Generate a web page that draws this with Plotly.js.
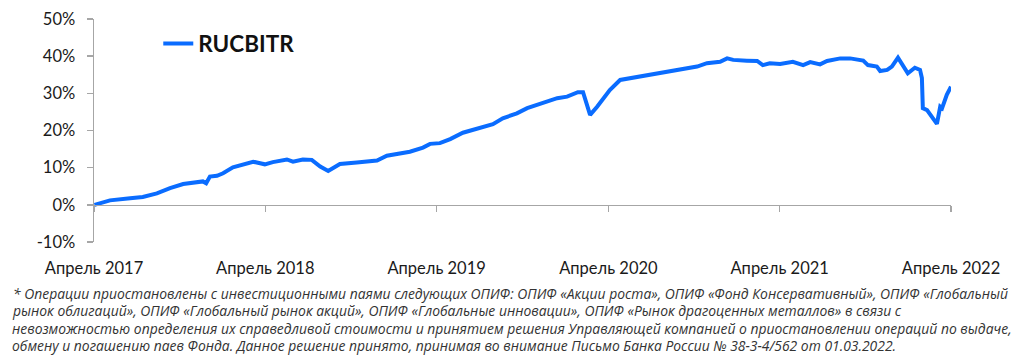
<!DOCTYPE html>
<html><head><meta charset="utf-8">
<script src="https://cdn.plot.ly/plotly-3.0.1.min.js"></script>
<style>html,body{margin:0;padding:0;background:#fff}#chart{width:1024px;height:357px}</style>
</head><body><div id="chart"></div>
<script>
const seriesName = 'RUCBITR';
const dates = ['2017-04-02','2017-05-05','2017-06-17','2017-07-14','2017-08-13','2017-09-10','2017-10-08','2017-11-06','2017-11-19','2017-11-26','2017-12-04','2017-12-19','2018-01-01','2018-01-22','2018-02-21','2018-03-06','2018-03-21','2018-03-31','2018-04-17','2018-05-17','2018-05-30','2018-06-20','2018-07-09','2018-07-27','2018-08-13','2018-09-07','2018-10-13','2018-11-25','2018-12-16','2019-01-13','2019-02-03','2019-03-03','2019-03-18','2019-04-08','2019-04-30','2019-05-27','2019-07-02','2019-07-30','2019-08-20','2019-09-19','2019-10-11','2019-11-14','2019-12-14','2020-01-04','2020-01-27','2020-02-07','2020-02-15','2020-02-22','2020-03-08','2020-03-21','2020-04-04','2020-04-26','2020-05-23','2020-06-29','2020-08-04','2020-09-07','2020-10-07','2020-10-28','2020-11-25','2020-12-10','2020-12-23','2021-01-21','2021-02-12','2021-02-24','2021-03-11','2021-04-02','2021-04-29','2021-05-21','2021-06-05','2021-06-26','2021-07-11','2021-08-08','2021-08-29','2021-09-26','2021-10-06','2021-10-25','2021-11-01','2021-11-16','2021-11-26','2021-12-09','2021-12-20','2021-12-30','2022-01-14','2022-01-25','2022-01-29','2022-01-31','2022-02-09','2022-03-02','2022-03-09','2022-03-13','2022-03-23','2022-04-01'];
const values = [0.0,1.2,1.8,2.1,3.1,4.5,5.6,6.0,6.3,5.8,7.6,7.8,8.5,10.1,11.0,11.6,11.2,10.9,11.5,12.2,11.6,12.2,12.1,10.3,9.1,11.0,11.4,11.9,13.2,13.9,14.3,15.4,16.4,16.6,17.7,19.4,20.8,21.7,23.3,24.6,26.0,27.3,28.7,29.1,30.3,30.3,27.3,24.2,26.4,28.7,30.9,33.6,34.2,35.1,35.8,36.6,37.2,38.1,38.5,39.4,39.0,38.8,38.7,37.6,38.1,37.9,38.5,37.6,38.4,37.8,38.7,39.4,39.4,38.8,37.6,37.2,36.0,36.3,37.2,39.6,37.2,35.4,36.9,36.3,34.1,26.0,25.5,21.8,26.4,26.0,29.6,31.8];
const xTickVals = ['2017-04-01','2018-04-01','2019-04-01','2020-04-01','2021-04-01','2022-04-01'];
const xTickText = ['Апрель 2017','Апрель 2018','Апрель 2019','Апрель 2020','Апрель 2021','Апрель 2022'];
const yTickVals = [-10,0,10,20,30,40,50];
const yTickText = ['-10%','0%','10%','20%','30%','40%','50%'];
const footnoteLines = [
  '* Операции приостановлены с инвестиционными паями следующих ОПИФ: ОПИФ «Акции роста», ОПИФ «Фонд Консервативный», ОПИФ «Глобальный',
  'рынок облигаций», ОПИФ «Глобальный рынок акций», ОПИФ «Глобальные инновации», ОПИФ «Рынок драгоценных металлов» в связи с',
  'невозможностью определения их справедливой стоимости и принятием решения Управляющей компанией о приостановлении операций по выдаче,',
  'обмену и погашению паев Фонда. Данное решение принято, принимая во внимание Письмо Банка России № 38-3-4/562 от 01.03.2022.'
];
const footnoteY = [-0.2287, -0.3094, -0.3857, -0.4619];

const trace = {
  x: dates, y: values, type: 'scatter', mode: 'lines', name: seriesName,
  line: {color: '#0a6cff', width: 4}
};
const layout = {
  width: 1024, height: 357,
  margin: {l: 94, r: 73, t: 19, b: 115},
  paper_bgcolor: '#fff', plot_bgcolor: '#fff',
  font: {family: 'Lato, "Open Sans", sans-serif', color: '#1a1a1a', size: 16.5},
  showlegend: true,
  legend: {x: 0.075, y: 0.985, xanchor: 'left', yanchor: 'top', bgcolor: 'rgba(0,0,0,0)',
           font: {family: 'Lato, sans-serif', size: 22.5, color: '#111', weight: 'bold'}},
  xaxis: {
    type: 'date', range: ['2017-04-01','2022-04-01'],
    tickvals: xTickVals, ticktext: xTickText,
    anchor: 'free', position: 1/6,
    showline: true, linecolor: '#a6a6a6', linewidth: 1.5,
    ticks: 'outside', ticklen: 6, tickcolor: '#a6a6a6', tickwidth: 1.5,
    showgrid: false, zeroline: false,
    ticklabelstandoff: 42,
    tickfont: {size: 16.5, color: '#1a1a1a'}
  },
  yaxis: {
    range: [-10, 50], tickvals: yTickVals, ticktext: yTickText,
    showline: true, linecolor: '#a6a6a6', linewidth: 1.5,
    ticks: 'outside', ticklen: 6, tickcolor: '#a6a6a6', tickwidth: 1.5,
    showgrid: false, zeroline: false,
    ticklabelstandoff: 8,
    tickfont: {size: 16.5, color: '#1a1a1a'}
  },
  annotations: footnoteLines.map((t, i) => ({
    xref: 'paper', yref: 'paper', x: i === 0 ? -0.0965 : -0.098, y: footnoteY[i],
    xanchor: 'left', yanchor: 'middle', align: 'left', showarrow: false, text: t,
    font: {family: '"Open Sans", sans-serif', size: 13.9, color: '#333', style: 'italic'}
  }))
};
Plotly.newPlot('chart', [trace], layout, {displayModeBar: false, staticPlot: true});
</script></body></html>
